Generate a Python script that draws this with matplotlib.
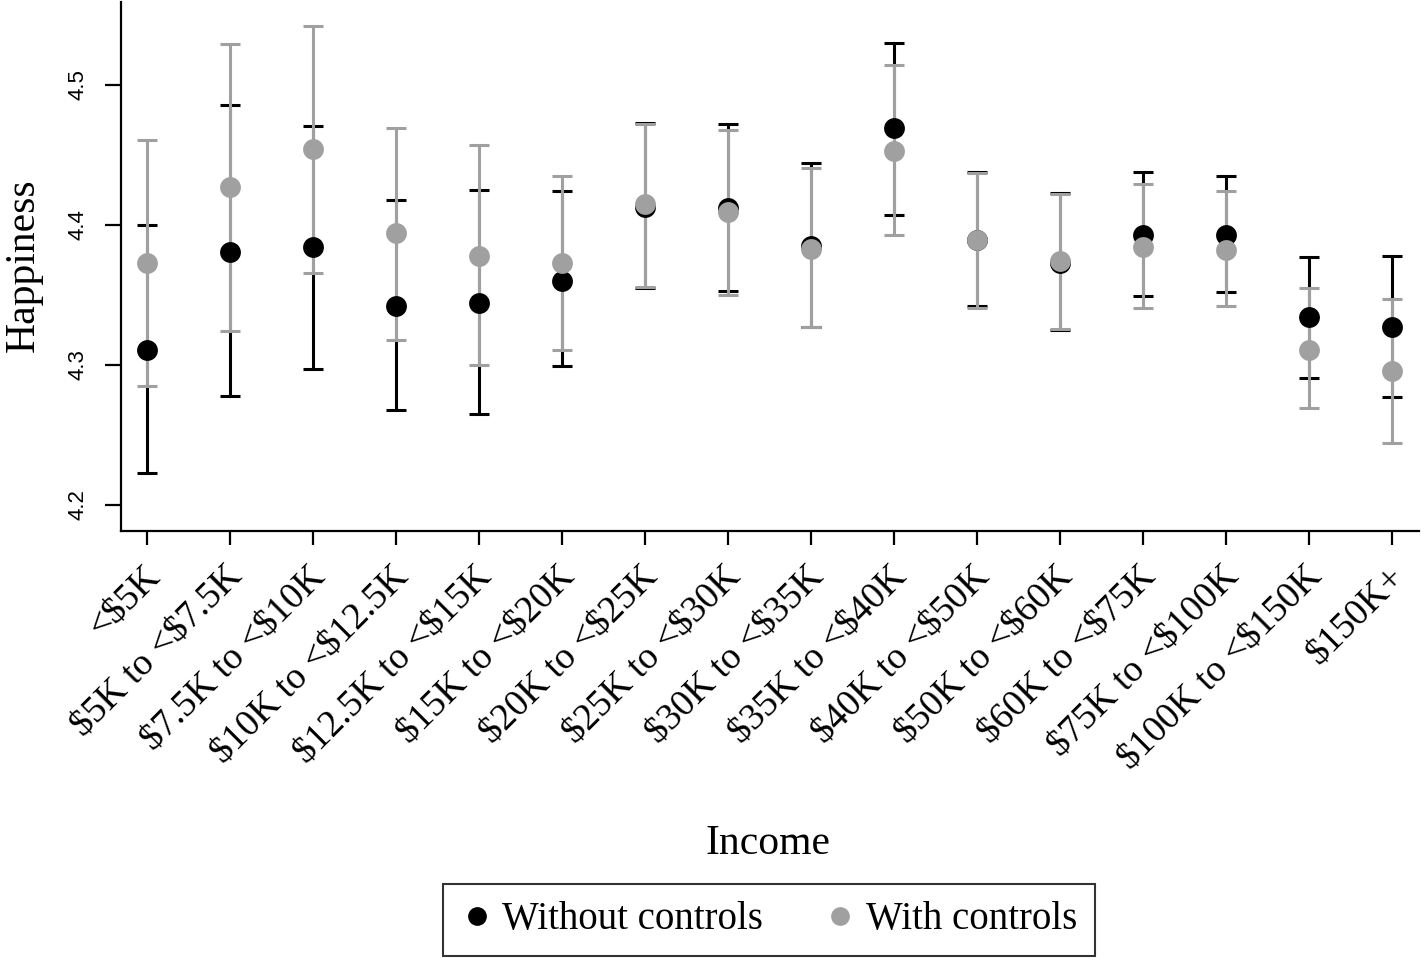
import matplotlib
matplotlib.use("Agg")
import matplotlib.pyplot as plt
import matplotlib.transforms as mtrans
import numpy as np

categories = ["<$5K", "$5K to <$7.5K", "$7.5K to <$10K", "$10K to <$12.5K",
              "$12.5K to <$15K", "$15K to <$20K", "$20K to <$25K", "$25K to <$30K",
              "$30K to <$35K", "$35K to <$40K", "$40K to <$50K", "$50K to <$60K",
              "$60K to <$75K", "$75K to <$100K", "$100K to <$150K", "$150K+"]

# Without controls
wo_est = [4.311, 4.381, 4.384, 4.342, 4.344, 4.360, 4.413, 4.412,
          4.385, 4.469, 4.389, 4.373, 4.393, 4.393, 4.334, 4.327]
wo_hi = [4.400, 4.486, 4.471, 4.418, 4.425, 4.424, 4.473, 4.472,
         4.444, 4.530, 4.438, 4.423, 4.438, 4.435, 4.377, 4.378]
wo_lo = [4.223, 4.278, 4.297, 4.268, 4.265, 4.299, 4.355, 4.353,
         4.327, 4.407, 4.342, 4.325, 4.349, 4.352, 4.291, 4.277]

# With controls
wc_est = [4.373, 4.427, 4.454, 4.394, 4.378, 4.373, 4.415, 4.409,
          4.383, 4.453, 4.389, 4.374, 4.384, 4.382, 4.311, 4.296]
wc_hi = [4.461, 4.529, 4.542, 4.469, 4.457, 4.435, 4.472, 4.468,
         4.441, 4.514, 4.437, 4.422, 4.429, 4.424, 4.355, 4.347]
wc_lo = [4.285, 4.324, 4.366, 4.318, 4.300, 4.311, 4.356, 4.350,
         4.327, 4.393, 4.341, 4.326, 4.341, 4.342, 4.269, 4.244]

yticks = [4.2, 4.3, 4.4, 4.5]

BLACK = "#000000"
GRAY = "#a0a0a0"
SERIF = ["Liberation Serif", "DejaVu Serif"]
SANS = ["Liberation Sans", "DejaVu Sans"]

plt.rcParams["font.family"] = SERIF
plt.rcParams["text.parse_math"] = False

fig = plt.figure(figsize=(14.21, 9.58), dpi=100)
ax = fig.add_axes([121/1421, 1-531/958, 1298/1421, 529/958])

x = np.arange(len(categories))
wo_est_a, wc_est_a = np.array(wo_est), np.array(wc_est)
ax.errorbar(x, wo_est_a, yerr=[wo_est_a-np.array(wo_lo), np.array(wo_hi)-wo_est_a],
            fmt="none", ecolor=BLACK, elinewidth=2.2, capsize=7.2, capthick=2.2, zorder=2)
ax.errorbar(x, wc_est_a, yerr=[wc_est_a-np.array(wc_lo), np.array(wc_hi)-wc_est_a],
            fmt="none", ecolor=GRAY, elinewidth=2.2, capsize=7.2, capthick=2.2, zorder=3)
ax.plot(x, wo_est_a, "o", color=BLACK, markersize=15, markeredgewidth=0,
        label="Without controls", zorder=4)
ax.plot(x, wc_est_a, "o", color=GRAY, markersize=15, markeredgewidth=0,
        label="With controls", zorder=5)

ax.set_xlim(-0.313, 15.325)
ax.set_ylim(4.1814, 4.5593)
ax.set_yticks(yticks)
ax.set_yticklabels([f"{t:.1f}" for t in yticks], rotation=90, va="center",
                   fontsize=16, family=SANS)
ax.set_xticks(x)
ax.set_xticklabels(categories, rotation=45, ha="right", va="center",
                   rotation_mode="anchor", fontsize=27)

for s in ["top", "right"]:
    ax.spines[s].set_visible(False)
for s in ["left", "bottom"]:
    ax.spines[s].set_linewidth(1.6)

ax.tick_params(axis="y", length=11.5, width=1.6, pad=12)
ax.tick_params(axis="x", length=10, width=1.6, pad=19)

offset = mtrans.ScaledTranslation(0.07, 0, fig.dpi_scale_trans)
for lab in ax.get_xticklabels():
    lab.set_transform(lab.get_transform() + offset)

ax.set_xlabel("Income", fontsize=30)
ax.xaxis.set_label_coords((768-121)/1298, (531-825)/529)
ax.set_ylabel("Happiness", fontsize=30)
ax.yaxis.set_label_coords((43-121)/1298, 0.503)

leg = fig.legend(loc="center", bbox_to_anchor=(769/1421, 1-920/958), ncol=2,
                 fontsize=28, frameon=True, fancybox=False, edgecolor="black",
                 handlelength=0.8, handletextpad=0.25, columnspacing=1.6,
                 borderpad=0.45, borderaxespad=0, markerscale=0.9)
leg.get_frame().set_linewidth(1.5)

fig.savefig("out.png", dpi=100, facecolor="white")
